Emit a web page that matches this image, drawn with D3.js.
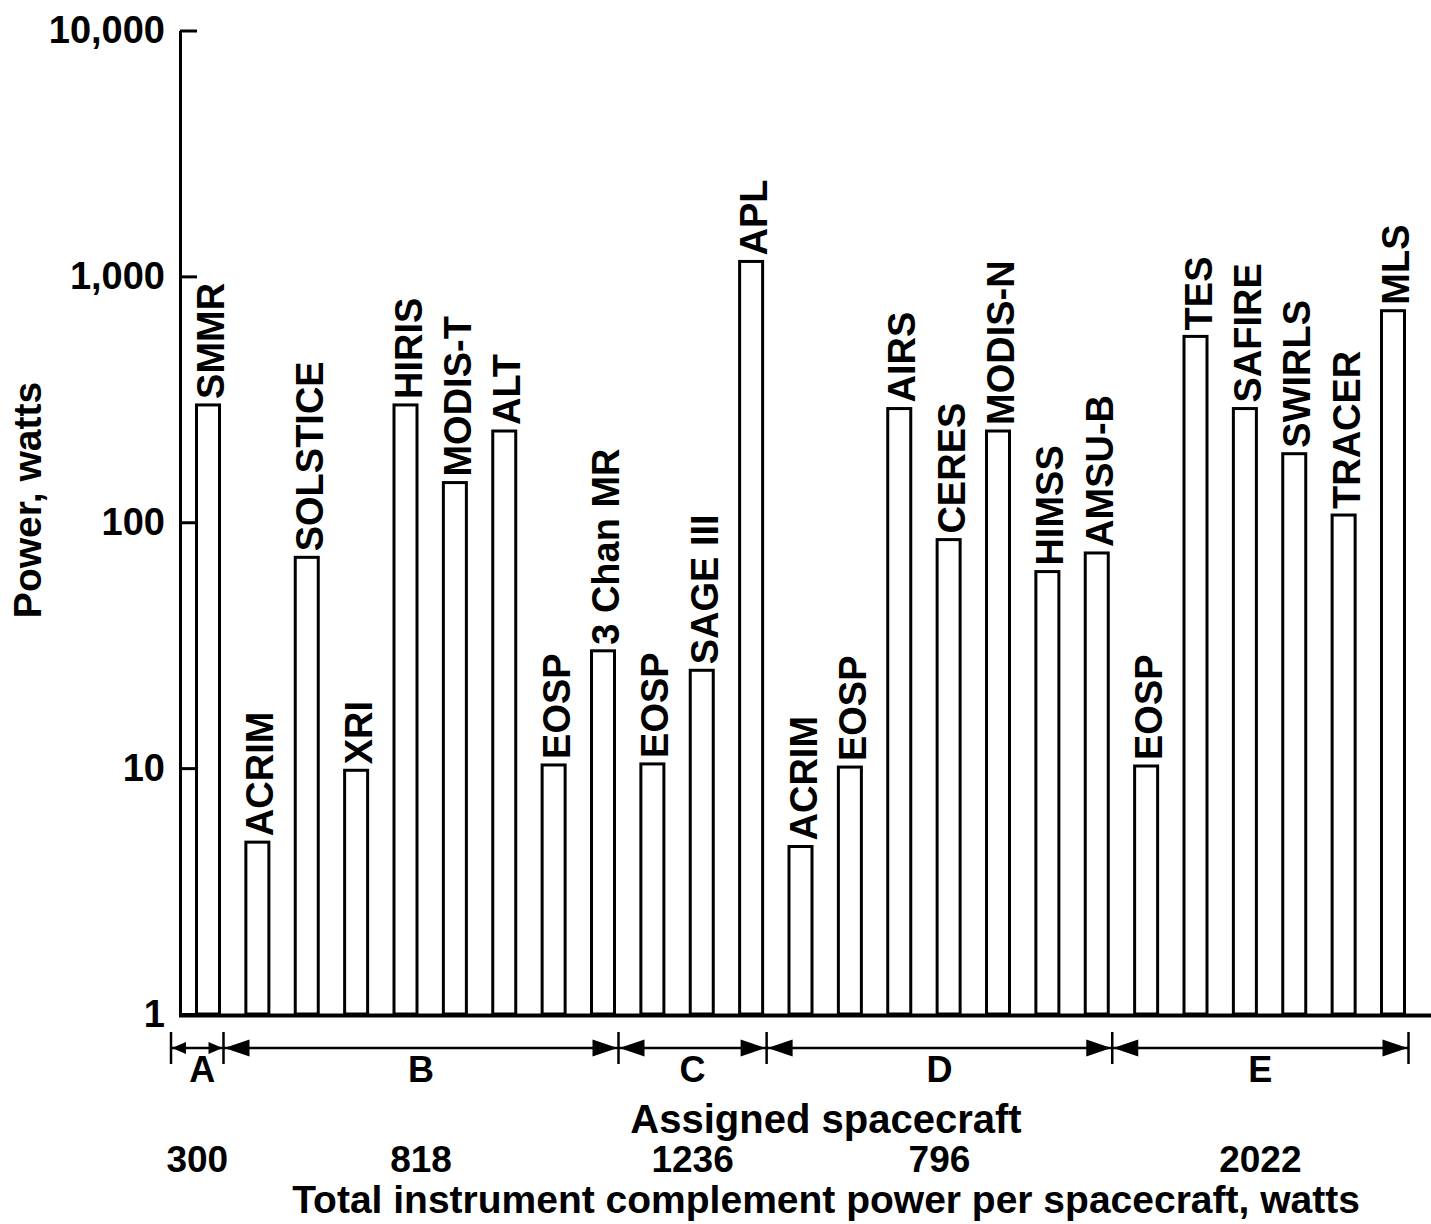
<!DOCTYPE html>
<html>
<head>
<meta charset="utf-8">
<script src="https://cdn.jsdelivr.net/npm/d3@7"></script>
<style>
  body { margin: 0; background: #fff; }
  text { font-family: "Liberation Sans", Arial, Helvetica, sans-serif; font-weight: bold; fill: #000; }
</style>
</head>
<body>
<div id="chart"></div>
<script>
var width = 1431,
    height = 1224;

// instruments in plotting order, power in watts (log scale)
var instruments = ["SMMR", "ACRIM", "SOLSTICE", "XRI", "HIRIS", "MODIS-T", "ALT", "EOSP", "3 Chan MR",
                   "EOSP", "SAGE III", "APL",
                   "ACRIM", "EOSP", "AIRS", "CERES", "MODIS-N", "HIMSS", "AMSU-B",
                   "EOSP", "TES", "SAFIRE", "SWIRLS", "TRACER", "MLS"];
var power = [300, 5, 72, 9.8, 300, 145, 235, 10.3, 30,
             10.4, 25, 1150,
             4.8, 10.1, 290, 85, 235, 63, 75,
             10.2, 570, 290, 190, 107, 725];

// spacecraft groups: index of the last instrument in each group
var spacecraft = ["A", "B", "C", "D", "E"];
var lastInstrument = [0, 8, 11, 18, 24];
var totalPower = [300, 818, 1236, 796, 2022];

var yTicks = [1, 10, 100, 1000, 10000];

var svg = d3.select("#chart").append("svg")
    .attr("width", width)
    .attr("height", height);

var axisX = 180;

var y = d3.scaleLog()
    .domain([1, 10000])
    .range([1014, 30.5]);

var x = d3.scalePoint()
    .domain(d3.range(instruments.length))
    .range([208, 1393]);

var barW = 23;

// bars
svg.selectAll(".bar")
    .data(power)
  .enter().append("rect")
    .attr("class", "bar")
    .attr("x", function(d, i) { return x(i) - barW / 2; })
    .attr("y", function(d) { return y(d); })
    .attr("width", barW)
    .attr("height", function(d) { return y(1) - y(d); })
    .attr("fill", "#fff")
    .attr("stroke", "#000")
    .attr("stroke-width", 3);

// instrument names, rotated, sitting on top of each bar
svg.selectAll(".name")
    .data(power)
  .enter().append("text")
    .attr("class", "name")
    .attr("transform", function(d, i) {
      return "translate(" + (x(i) + 16) + "," + (y(d) - 6) + ") rotate(-90)";
    })
    .attr("font-size", 38)
    .text(function(d, i) { return instruments[i]; });

// y axis, ticks pointing inward
var yAxis = svg.append("g")
    .attr("transform", "translate(" + axisX + ",0)")
    .call(d3.axisLeft(y)
      .tickValues(yTicks)
      .tickFormat(d3.format(","))
      .tickSize(-17)
      .tickSizeOuter(0)
      .tickPadding(15));

yAxis.select(".domain").attr("stroke-width", 3);
yAxis.selectAll(".tick line").attr("stroke-width", 3);
yAxis.selectAll(".tick text")
    .attr("font-size", 38)
    .attr("font-family", "Liberation Sans, Arial, sans-serif")
    .attr("font-weight", "bold");

// baseline
svg.append("line")
    .attr("x1", axisX - 1)
    .attr("x2", width)
    .attr("y1", y(1) + 1.5)
    .attr("y2", y(1) + 1.5)
    .attr("stroke", "#000")
    .attr("stroke-width", 4);

// y title
svg.append("text")
    .attr("transform", "translate(41,500) rotate(-90)")
    .attr("text-anchor", "middle")
    .attr("font-size", 39)
    .text("Power, watts");

// spacecraft brackets
var bounds = [x(0) - 37];
lastInstrument.forEach(function(k) { bounds.push(x(k) + barW / 2 + 4); });

var arrowY = 1048;

function arrowHead(tip, dir, len, hw) {
  return "M" + tip + "," + arrowY +
         "L" + (tip + dir * len) + "," + (arrowY - hw) +
         "L" + (tip + dir * len) + "," + (arrowY + hw) + "Z";
}

svg.selectAll(".sep")
    .data(bounds)
  .enter().append("line")
    .attr("class", "sep")
    .attr("x1", function(d) { return d; })
    .attr("x2", function(d) { return d; })
    .attr("y1", 1032)
    .attr("y2", 1064)
    .attr("stroke", "#000")
    .attr("stroke-width", 2.5);

spacecraft.forEach(function(name, k) {
  var b0 = bounds[k], b1 = bounds[k + 1];
  var small = (b1 - b0) < 80;
  var len = small ? 14 : 25, hw = small ? 6 : 8.5;
  var mid = (b0 + b1) / 2;

  svg.append("line")
      .attr("x1", b0).attr("x2", b1)
      .attr("y1", arrowY).attr("y2", arrowY)
      .attr("stroke", "#000")
      .attr("stroke-width", 2.5);
  svg.append("path").attr("d", arrowHead(b0 + 1, 1, len, hw)).attr("fill", "#000");
  svg.append("path").attr("d", arrowHead(b1 - 1, -1, len, hw)).attr("fill", "#000");

  svg.append("text")
      .attr("x", mid + (small ? 5 : 0))
      .attr("y", 1082)
      .attr("text-anchor", "middle")
      .attr("font-size", 36)
      .text(name);

  svg.append("text")
      .attr("x", mid)
      .attr("y", 1172)
      .attr("text-anchor", "middle")
      .attr("font-size", 37)
      .text(totalPower[k]);
});

svg.append("text")
    .attr("x", 826)
    .attr("y", 1133)
    .attr("text-anchor", "middle")
    .attr("font-size", 40)
    .text("Assigned spacecraft");

svg.append("text")
    .attr("x", 826)
    .attr("y", 1213)
    .attr("text-anchor", "middle")
    .attr("font-size", 39)
    .text("Total instrument complement power per spacecraft, watts");
</script>
</body>
</html>
